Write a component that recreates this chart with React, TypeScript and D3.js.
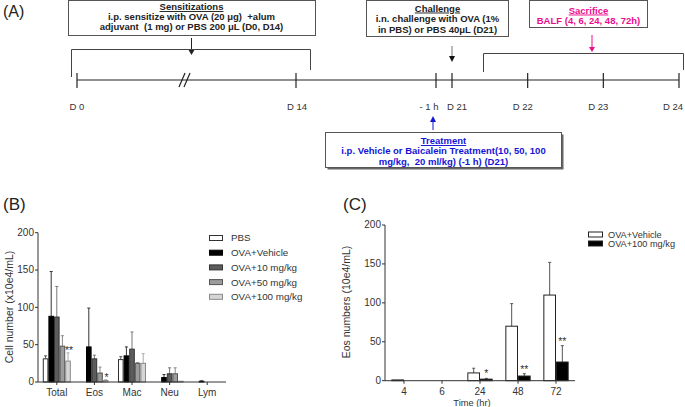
import React from 'react';
import * as d3 from 'd3';

// panel B: BALF cell counts per cell type
const cellTypes = ['Total', 'Eos', 'Mac', 'Neu', 'Lym'];
const groupNames = ['PBS', 'OVA+Vehicle', 'OVA+10 mg/kg', 'OVA+50 mg/kg', 'OVA+100 mg/kg'];
const pbsMean = [31, 0, 30, 0, 0];
const pbsErr = [35, 0, 34, 0, 0];
const vehMean = [88, 47, 35, 6, 1];
const vehErr = [148, 99, 47, 10, 1.5];
const d10Mean = [87, 31, 44, 11, 0];
const d10Err = [128, 36, 67, 19, 0];
const d50Mean = [48, 12, 25, 11, 0];
const d50Err = [62, 20, 26, 19, 0];
const d100Mean = [28, 2, 25, 1, 0];
const d100Err = [39, 3, 38, 1, 0];
const starsB = [
  { cell: 'Total', group: 'OVA+100 mg/kg', label: '**' },
  { cell: 'Eos', group: 'OVA+100 mg/kg', label: '*' },
];
const yTicks = [0, 50, 100, 150, 200];

// panel C: eosinophils over time
const timePoints = ['4', '6', '24', '48', '72'];
const seriesC = ['OVA+Vehicle', 'OVA+100 mg/kg'];
const vehTimeMean = [1, 0, 10, 70, 110];
const vehTimeErr = [1, 0, 16, 99, 152];
const bacTimeMean = [0, 0, 2, 6, 24];
const bacTimeErr = [0, 0, 3, 9, 45];
const starsC = [
  { time: '24', label: '*' },
  { time: '48', label: '**' },
  { time: '72', label: '**' },
];

// panel A: protocol timeline
const timelineDays = [0, 14, 20.958, 21, 22, 23, 24];
const timelineLabels = ['D 0', 'D 14', '- 1 h', 'D 21', 'D 22', 'D 23', 'D 24'];
const labelShift = [0, 1, -7, 5, -5, -5, -6];

const FONT = "'Liberation Sans', Arial, sans-serif";
const fillsB = ['#ffffff', '#000000', '#5c5c5c', '#9c9c9c', '#d6d6d6'];
const strokesB = ['#333', '#000', '#333', '#555', '#8a8a8a'];
const errB = ['#555', '#333', '#777', '#888', '#aaa'];
const MAGENTA = '#ec0c8c';
const BLUE = '#1414d8';

const ErrBar = ({ x, y1, y2, color }) => (
  <g stroke={color} strokeWidth={1}>
    <line x1={x} x2={x} y1={y1} y2={y2} />
    <line x1={x - 1.5} x2={x + 1.5} y1={y2} y2={y2} />
  </g>
);

const Timeline = () => {
  const x = d3.scaleLinear().domain([0, 14, 20.958, 21, 24]).range([77, 296, 436, 452, 679]);
  const bold = {
    fontFamily: FONT, fontWeight: 700, fontSize: 9.5, textAnchor: 'middle',
    style: { whiteSpace: 'pre' },
  } as any;
  return (
    <g>
      <text x={3} y={17} fontFamily={FONT} fontSize={16} fill="#222">(A)</text>

      {/* sensitization */}
      <rect x={68.5} y={0.5} width={247} height={35} fill="#fff" stroke="#555" />
      <text {...bold} x={191.5} y={10} fill="#222" textDecoration="underline">Sensitizations</text>
      <text {...bold} x={191.5} y={20} fill="#222">i.p. sensitize with OVA (20 μg)  +alum</text>
      <text {...bold} x={191.5} y={30} fill="#222">adjuvant  (1 mg) or PBS 200 μL (D0, D14)</text>
      <line x1={191.5} x2={191.5} y1={38} y2={50} stroke="#222" />
      <path d="M188,49 L195,49 L191.5,55 Z" fill="#222" />
      <path d="M71.5,77 V49.5 H310.5 V70" fill="none" stroke="#444" />

      {/* challenge */}
      <rect x={366.5} y={0.5} width={142} height={36} fill="#fff" stroke="#555" />
      <text {...bold} x={437.5} y={11.5} fill="#222" textDecoration="underline">Challenge</text>
      <text {...bold} x={437.5} y={22} fill="#222">i.n. challenge with OVA (1%</text>
      <text {...bold} x={437.5} y={33} fill="#222">in PBS) or PBS 40μL (D21)</text>
      <line x1={452} x2={452} y1={46} y2={57} stroke="#777" />
      <path d="M449,56 L455,56 L452,62 Z" fill="#111" />

      {/* sacrifice */}
      <rect x={529.5} y={0.5} width={118} height={27} fill="#fff" stroke="#555" />
      <text {...bold} x={588.5} y={13.5} fill={MAGENTA} textDecoration="underline">Sacrifice</text>
      <text {...bold} x={588.5} y={24} fill={MAGENTA}>BALF (4, 6, 24, 48, 72h)</text>
      <line x1={592} x2={592} y1={35} y2={48} stroke={MAGENTA} />
      <path d="M589,47 L595,47 L592,52 Z" fill={MAGENTA} />
      <path d="M483.5,72 V53.5 H683.5 V70" fill="none" stroke="#444" />

      {/* main axis */}
      <line x1={x(0)} x2={x(24)} y1={80} y2={80} stroke="#222" strokeWidth={1.2} />
      {timelineDays.map((d, i) => (
        <g key={i}>
          <line x1={x(d)} x2={x(d)} y1={73} y2={88} stroke="#222" strokeWidth={1.2} />
          <text x={x(d) + labelShift[i]} y={110} textAnchor="middle" fontFamily={FONT}
            fontSize={9.5} fill="#333">{timelineLabels[i]}</text>
        </g>
      ))}
      <line x1={179} y1={87} x2={185} y2={73} stroke="#222" strokeWidth={1.2} />
      <line x1={184} y1={87} x2={190} y2={73} stroke="#222" strokeWidth={1.2} />

      {/* treatment */}
      <line x1={433} x2={433} y1={121} y2={130} stroke={BLUE} />
      <path d="M430,122 L436,122 L433,116 Z" fill={BLUE} />
      <rect x={327.5} y={134.5} width={236} height={35} fill="#666" />
      <rect x={325.5} y={132.5} width={236} height={35} fill="#fff" stroke="#555" />
      <text {...bold} x={443.5} y={144} fill={BLUE} textDecoration="underline">Treatment</text>
      <text {...bold} x={443.5} y={154} fill={BLUE}>i.p. Vehicle or Baicalein Treatment(10, 50, 100</text>
      <text {...bold} x={443.5} y={164.5} fill={BLUE}>mg/kg,  20 ml/kg) (-1 h) (D21)</text>
    </g>
  );
};

const YAxis = ({ y, x0 }) => (
  <g fontFamily={FONT} fontSize={10} fill="#333">
    <line x1={x0} x2={x0} y1={y(0)} y2={y(200)} stroke="#333" />
    {yTicks.map(t => (
      <g key={t}>
        <line x1={x0 - 3} x2={x0} y1={y(t)} y2={y(t)} stroke="#333" />
        <text x={x0 - 4} y={y(t)} dy="0.34em" textAnchor="end">{t}</text>
      </g>
    ))}
  </g>
);

const PanelB = () => {
  const x0 = d3.scaleBand().domain(cellTypes).range([38, 226]).paddingInner(0.255).paddingOuter(0.1275);
  const x1 = d3.scaleBand().domain(groupNames).range([0, x0.bandwidth()]);
  const y = d3.scaleLinear().domain([0, 200]).range([382, 232.7]);
  const means = [pbsMean, vehMean, d10Mean, d50Mean, d100Mean];
  const errs = [pbsErr, vehErr, d10Err, d50Err, d100Err];
  return (
    <g>
      <text x={3} y={210} fontFamily={FONT} fontSize={17} fill="#222">(B)</text>
      <YAxis y={y} x0={38} />
      <text transform="translate(13,307) rotate(-90)" textAnchor="middle" fontFamily={FONT}
        fontSize={10.5} fill="#333">Cell number (x10e4/mL)</text>
      {groupNames.map((g, gi) => (
        <g key={g}>
          {cellTypes.map((c, ci) => {
            const bx = x0(c) + x1(g);
            const cx = bx + x1.bandwidth() / 2;
            const v = means[gi][ci];
            if (v <= 0) return null;
            return (
              <g key={c}>
                {errs[gi][ci] > v && <ErrBar x={cx} y1={y(v)} y2={y(errs[gi][ci])} color={errB[gi]} />}
                <rect x={bx + 0.5} y={y(v)} width={x1.bandwidth() - 1} height={y(0) - y(v)}
                  fill={fillsB[gi]} stroke={strokesB[gi]} strokeWidth={1} />
              </g>
            );
          })}
        </g>
      ))}
      {starsB.map((s, i) => {
        const gi = groupNames.indexOf(s.group);
        const ci = cellTypes.indexOf(s.cell);
        return (
          <text key={i} x={x0(s.cell) + x1(s.group) + x1.bandwidth() / 2 + 1} y={y(errs[gi][ci]) + 1}
            textAnchor="middle" fontFamily={FONT} fontSize={10.5} fill="#333">{s.label}</text>
        );
      })}
      <g fontFamily={FONT} fontSize={10} fill="#333">
        <line x1={38} x2={226} y1={382} y2={382} stroke="#333" />
        {cellTypes.map(c => (
          <g key={c}>
            <line x1={x0(c) + x0.bandwidth() / 2} x2={x0(c) + x0.bandwidth() / 2} y1={382} y2={385} stroke="#333" />
            <text x={x0(c) + x0.bandwidth() / 2} y={396} textAnchor="middle">{c}</text>
          </g>
        ))}
      </g>
      <g fontFamily={FONT} fontSize={9.8} fill="#333">
        {groupNames.map((g, i) => (
          <g key={g} transform={`translate(0,${238 + i * 14.7})`}>
            <rect x={209.5} y={-2.5} width={13} height={5} fill={fillsB[i]} stroke={strokesB[i]} />
            <text x={231} y={0} dy="0.35em">{g}</text>
          </g>
        ))}
      </g>
    </g>
  );
};

const PanelC = () => {
  const x0 = d3.scaleBand().domain(timePoints).range([385, 575]).paddingInner(0.334).paddingOuter(0.167);
  const x1 = d3.scaleBand().domain(seriesC).range([0, x0.bandwidth()]);
  const y = d3.scaleLinear().domain([0, 200]).range([380.7, 225]);
  const means = [vehTimeMean, bacTimeMean];
  const errs = [vehTimeErr, bacTimeErr];
  const fills = ['#fff', '#000'];
  return (
    <g>
      <text x={343} y={210} fontFamily={FONT} fontSize={17} fill="#222">(C)</text>
      <YAxis y={y} x0={385} />
      <text transform="translate(350,302) rotate(-90)" textAnchor="middle" fontFamily={FONT}
        fontSize={10.5} fill="#333">Eos numbers (10e4/mL)</text>
      {seriesC.map((s, si) => (
        <g key={s}>
          {timePoints.map((t, ti) => {
            const bx = x0(t) + x1(s);
            const cx = bx + x1.bandwidth() / 2;
            const v = means[si][ti];
            if (v <= 0) return null;
            return (
              <g key={t}>
                {errs[si][ti] > v && <ErrBar x={cx} y1={y(v)} y2={y(errs[si][ti])} color="#555" />}
                <rect x={bx + 0.5} y={y(v)} width={x1.bandwidth() - 1} height={y(0) - y(v)}
                  fill={fills[si]} stroke="#222" />
              </g>
            );
          })}
        </g>
      ))}
      {starsC.map((s, i) => {
        const ti = timePoints.indexOf(s.time);
        return (
          <text key={i} x={x0(s.time) + x1(seriesC[1]) + x1.bandwidth() / 2} y={y(bacTimeErr[ti]) - 1}
            textAnchor="middle" fontFamily={FONT} fontSize={10.5} fill="#333">{s.label}</text>
        );
      })}
      <g fontFamily={FONT} fontSize={10} fill="#333">
        <line x1={385} x2={575} y1={380.7} y2={380.7} stroke="#333" />
        {timePoints.map(t => (
          <g key={t}>
            <line x1={x0(t) + x0.bandwidth() / 2} x2={x0(t) + x0.bandwidth() / 2} y1={380.7} y2={383.7} stroke="#333" />
            <text x={x0(t) + x0.bandwidth() / 2} y={394.5} textAnchor="middle">{t}</text>
          </g>
        ))}
        <text x={472} y={405.5} fontSize={9.3} textAnchor="middle">Time (hr)</text>
      </g>
      <g fontFamily={FONT} fontSize={9.2} fill="#333">
        {seriesC.map((s, i) => (
          <g key={s} transform={`translate(0,${234.5 + i * 9})`}>
            <rect x={588.5} y={-2.5} width={14} height={5} fill={fills[i]} stroke="#222" />
            <text x={608} y={0} dy="0.35em">{s}</text>
          </g>
        ))}
      </g>
    </g>
  );
};

const App = () => (
  <svg width={685} height={407} style={{ position: 'absolute', left: 0, top: 0, background: '#fff' }}>
    <Timeline />
    <PanelB />
    <PanelC />
  </svg>
);

export default App;
